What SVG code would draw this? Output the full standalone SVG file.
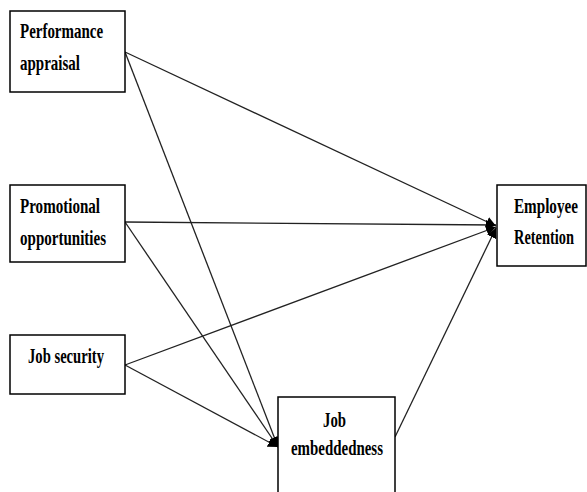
<svg xmlns="http://www.w3.org/2000/svg" width="587" height="492" viewBox="0 0 587 492">
<style>
.box{fill:#fff;stroke:#000;stroke-width:1.5}
.lbl{font-family:"Liberation Serif","Times New Roman",serif;font-weight:bold;font-size:22px;fill:#000}
.edge{stroke:#222;stroke-width:1.3;fill:none;marker-end:url(#arr)}
</style>
<defs>
<marker id="arr" markerUnits="userSpaceOnUse" markerWidth="12" markerHeight="10" refX="10" refY="5" orient="auto">
<path d="M0,0 L10,5 L0,10 z" fill="#000"/>
</marker>
</defs>
<rect width="587" height="492" fill="#fff"/>
<g id="connectors">
<line class="edge" x1="125" y1="52" x2="496" y2="226"/>
<line class="edge" x1="125" y1="222" x2="496" y2="225"/>
<line class="edge" x1="125" y1="365" x2="496" y2="227"/>
<line class="edge" x1="395" y1="437" x2="496" y2="228"/>
<line class="edge" x1="125" y1="52" x2="278" y2="447"/>
<line class="edge" x1="125" y1="222" x2="278" y2="447"/>
<line class="edge" x1="125" y1="365" x2="278" y2="447"/>
</g>
<g id="performance">
<rect class="box" x="10" y="11" width="115" height="81"/>
<text class="lbl" transform="translate(20,38) scale(0.7,1)" textLength="118.6" lengthAdjust="spacingAndGlyphs">Performance</text>
<text class="lbl" transform="translate(20,70) scale(0.7,1)" textLength="85.7" lengthAdjust="spacingAndGlyphs">appraisal</text>
</g>
<g id="promotional">
<rect class="box" x="10" y="185" width="115" height="77"/>
<text class="lbl" transform="translate(20,213) scale(0.7,1)" textLength="114.3" lengthAdjust="spacingAndGlyphs">Promotional</text>
<text class="lbl" transform="translate(20,245) scale(0.7,1)" textLength="122.9" lengthAdjust="spacingAndGlyphs">opportunities</text>
</g>
<g id="jobsecurity">
<rect class="box" x="10" y="335" width="115" height="59"/>
<text class="lbl" transform="translate(28,363) scale(0.7,1)" textLength="108.6" lengthAdjust="spacingAndGlyphs">Job security</text>
</g>
<g id="embeddedness">
<rect class="box" x="278" y="397" width="117" height="100"/>
<text class="lbl" transform="translate(323,427) scale(0.7,1)" textLength="32.9" lengthAdjust="spacingAndGlyphs">Job</text>
<text class="lbl" transform="translate(291,455) scale(0.7,1)" textLength="131.4" lengthAdjust="spacingAndGlyphs">embeddedness</text>
</g>
<g id="retention">
<rect class="box" x="497" y="185" width="89" height="81"/>
<text class="lbl" transform="translate(514,213) scale(0.7,1)" textLength="91.4" lengthAdjust="spacingAndGlyphs">Employee</text>
<text class="lbl" transform="translate(514,244) scale(0.7,1)" textLength="85.7" lengthAdjust="spacingAndGlyphs">Retention</text>
</g>
</svg>
